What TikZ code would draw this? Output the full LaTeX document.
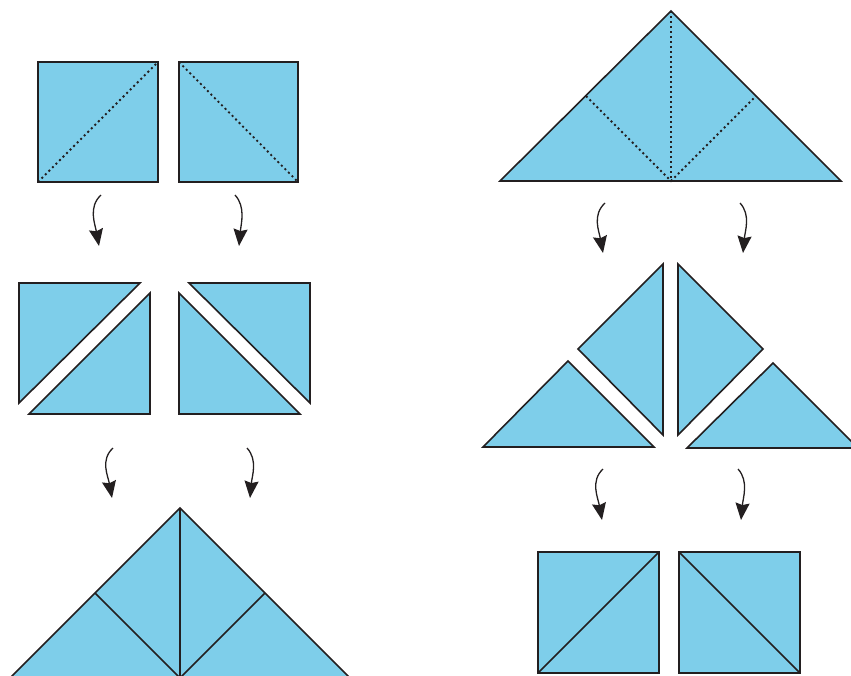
\documentclass[tikz,border=0pt]{standalone}
\usetikzlibrary{arrows.meta}
\definecolor{paperblue}{RGB}{126,206,234}
\definecolor{ink}{RGB}{35,31,32}
\begin{document}
\begin{tikzpicture}[x=1pt, y=-1pt]
    % Define styles
    \tikzstyle{piece} = [fill=paperblue, draw=ink, line width=1.6pt]
    \tikzstyle{fold} = [draw=ink, line width=1.8pt, dash pattern=on 2pt off 3pt]
    \tikzstyle{crease} = [draw=ink, line width=1.6pt]
    \tikzstyle{turn} = [draw=ink, line width=1.3pt, -{Stealth[length=17pt, width=14pt, inset=2pt]}]
    \useasboundingbox (0,0) rectangle (851,675);

    % Left column: squares with fold lines
    \draw[piece] (38,62) rectangle (158,182);
    \draw[fold] (38,182) -- (158,62);
    \draw[piece] (179,62) rectangle (298,182);
    \draw[fold] (179,62) -- (298,182);

    % Left column: squares cut into halves
    \draw[piece] (19,283) -- (140,283) -- (19,403) -- cycle;
    \draw[piece] (150,293) -- (150,414) -- (29,414) -- cycle;
    \draw[piece] (179,293) -- (179,414) -- (300,414) -- cycle;
    \draw[piece] (189,283) -- (310,283) -- (310,403) -- cycle;

    % Left column: halves joined to a big triangle
    \draw[piece] (180,508) -- (10,678) -- (350,678) -- cycle;
    \draw[crease] (180,508) -- (180,678);
    \draw[crease] (95,593) -- (180,678) -- (265,593);

    % Right column: big triangle with fold lines
    \draw[piece] (671,11) -- (500,181) -- (841,181) -- cycle;
    \draw[fold] (671,11) -- (671,181);
    \draw[fold] (586,96) -- (671,181) -- (756,96);

    % Right column: big triangle cut into quarters
    \draw[piece] (483,447) -- (654,447) -- (568,361) -- cycle;
    \draw[piece] (663,264) -- (663,435) -- (578,349) -- cycle;
    \draw[piece] (678,264) -- (678,435) -- (763,349) -- cycle;
    \draw[piece] (687,448) -- (773,363) -- (858,448) -- cycle;

    % Right column: quarters joined to squares
    \draw[piece] (538,552) rectangle (659,673);
    \draw[crease] (538,673) -- (659,552);
    \draw[piece] (679,552) rectangle (800,673);
    \draw[crease] (679,552) -- (800,673);

    % Arrow ends
    \coordinate (a1s) at (101,195); \coordinate (a1e) at (99,246);
    \coordinate (a2s) at (235,195); \coordinate (a2e) at (239,246);
    \coordinate (a3s) at (113,448); \coordinate (a3e) at (112,498);
    \coordinate (a4s) at (247,448); \coordinate (a4e) at (250,498);
    \coordinate (a5s) at (605,203); \coordinate (a5e) at (603,253);
    \coordinate (a6s) at (740,203); \coordinate (a6e) at (743,253);
    \coordinate (a7s) at (603,469); \coordinate (a7e) at (602,520);
    \coordinate (a8s) at (738,469); \coordinate (a8e) at (741,520);

    % Arrows
    \draw[turn] (a1s) .. controls +(-13,12) and +(-4,-22) .. (a1e);
    \draw[turn] (a2s) .. controls +(11,12) and +(2,-22) .. (a2e);
    \draw[turn] (a3s) .. controls +(-13,12) and +(-4,-22) .. (a3e);
    \draw[turn] (a4s) .. controls +(11,12) and +(2,-22) .. (a4e);
    \draw[turn] (a5s) .. controls +(-13,12) and +(-4,-22) .. (a5e);
    \draw[turn] (a6s) .. controls +(11,12) and +(2,-22) .. (a6e);
    \draw[turn] (a7s) .. controls +(-13,12) and +(-4,-22) .. (a7e);
    \draw[turn] (a8s) .. controls +(11,12) and +(2,-22) .. (a8e);
\end{tikzpicture}
\end{document}
